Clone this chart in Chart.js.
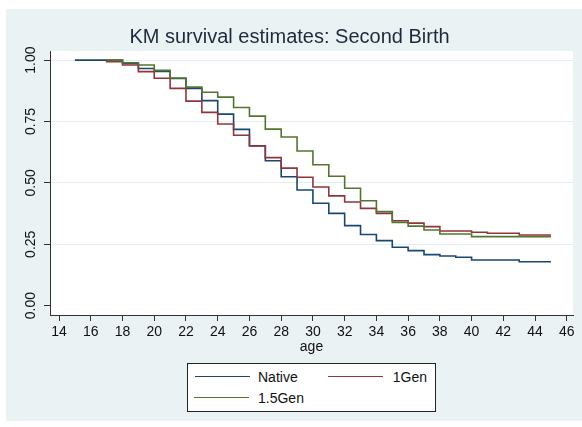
<!DOCTYPE html>
<html><head><meta charset="utf-8">
<script src="https://cdn.jsdelivr.net/npm/chart.js@4/dist/chart.umd.min.js"></script>
<style>
html,body{margin:0;padding:0;background:#fff;}
#wrap{position:relative;width:582px;height:427px;overflow:hidden;}
#bg{position:absolute;left:6px;top:9px;width:576px;height:412px;background:#eaf2f3;}
canvas{position:absolute;left:0;top:0;}
#legend{position:absolute;left:187px;top:363px;width:247px;height:47px;background:#fff;border:1px solid #222;font-family:Arial,"Liberation Sans",sans-serif;font-size:14px;color:#111;}
.sw{position:absolute;height:0;border-top:1.5px solid;}
.lt{position:absolute;height:16px;line-height:16px;white-space:nowrap;}
</style></head>
<body>
<div id="wrap">
<div id="bg"></div>
<canvas id="c" width="582" height="427"></canvas>
<div id="legend"></div>
</div>
<script>
const ages       = [15,16,17,18,19,20,21,22,23,24,25,26,27,28,29,30,31,32,33,34,35,36,37,38,39,40,41,42,43,44,45];
const nativeSurv = [1.000,1.000,1.000,1.000,0.986,0.966,0.954,0.925,0.885,0.835,0.780,0.718,0.651,0.590,0.525,0.471,0.417,0.376,0.326,0.290,0.265,0.238,0.224,0.208,0.202,0.197,0.186,0.186,0.186,0.179,0.179];
const gen1Surv   = [null,null,0.997,0.993,0.980,0.953,0.926,0.885,0.833,0.787,0.740,0.694,0.650,0.603,0.560,0.523,0.483,0.447,0.422,0.396,0.376,0.346,0.336,0.322,0.304,0.304,0.299,0.295,0.295,0.288,0.288];
const gen15Surv  = [null,null,1.000,1.000,0.989,0.980,0.958,0.927,0.890,0.869,0.849,0.807,0.772,0.719,0.687,0.630,0.574,0.527,0.478,0.427,0.383,0.339,0.324,0.308,0.292,0.292,0.281,0.281,0.281,0.281,0.281];

const seriesNames  = ['Native','1Gen','1.5Gen'];
const seriesColors = ['#1a476f','#90353b','#55752f'];
const xTicks = [14,16,18,20,22,24,26,28,30,32,34,36,38,40,42,44,46];
const yTicks = [0,0.25,0.5,0.75,1];
const yTickLabels = ['0.00','0.25','0.50','0.75','1.00'];
const titleText = 'KM survival estimates: Second Birth';
const xTitle = 'age';

const FONT = 'Arial, "Liberation Sans", sans-serif';
const allSeries = [nativeSurv, gen1Surv, gen15Surv];

const datasets = allSeries.map((vals, i) => ({
  label: seriesNames[i],
  data: ages.map((a, j) => ({x: a, y: vals[j]})),
  borderColor: seriesColors[i],
  borderWidth: 1.6,
  pointRadius: 0,
  fill: false,
  stepped: 'after',
  spanGaps: false,
  order: 3 - i
}));

const plotBg = {
  id: 'plotBg',
  beforeDraw(chart) {
    const a = chart.chartArea, ctx = chart.ctx;
    ctx.save(); ctx.fillStyle = '#ffffff';
    ctx.fillRect(a.left, a.top, a.right - a.left, a.bottom - a.top);
    ctx.restore();
  }
};
const yLabels = {
  id: 'yLabels',
  afterDraw(chart) {
    const ctx = chart.ctx, ys = chart.scales.y;
    ctx.save();
    ctx.font = '14px ' + FONT;
    ctx.fillStyle = '#111';
    ctx.textAlign = 'center';
    ctx.textBaseline = 'middle';
    yTicks.forEach((v, i) => {
      const py = ys.getPixelForValue(v);
      ctx.save();
      ctx.translate(31, py);
      ctx.rotate(-Math.PI / 2);
      ctx.fillText(yTickLabels[i], 0, 0);
      ctx.restore();
    });
    ctx.restore();
  }
};

new Chart(document.getElementById('c'), {
  type: 'line',
  data: {datasets},
  plugins: [plotBg, yLabels],
  options: {
    responsive: false, animation: false, devicePixelRatio: 1,
    layout: {padding: {left: 6, right: 9, top: 20, bottom: 71}},
    plugins: {
      legend: {display: false}, tooltip: {enabled: false},
      title: {display: true, text: titleText, color: '#1e2a3c',
        font: {family: FONT, size: 20, weight: 'normal', lineHeight: 1.2},
        padding: {top: 5, bottom: 2}}
    },
    scales: {
      x: {
        type: 'linear', min: 13.43, max: 46.39,
        afterBuildTicks: s => { s.ticks = xTicks.map(v => ({value: v})); },
        afterFit: s => { s.height = 41; },
        grid: {drawOnChartArea: false, drawTicks: true, tickLength: 6, tickColor: '#333', tickWidth: 1},
        border: {display: true, color: '#333', width: 1},
        ticks: {font: {family: FONT, size: 14}, color: '#111', padding: 3, maxRotation: 0, minRotation: 0, autoSkip: false, callback: v => String(v)},
        title: {display: true, text: xTitle, font: {family: FONT, size: 14}, color: '#111', padding: 0}
      },
      y: {
        min: -0.038, max: 1.037,
        afterBuildTicks: s => { s.ticks = yTicks.map(v => ({value: v})); },
        afterFit: s => { s.width = 44; },
        grid: {color: ctx => (ctx.tick && ctx.tick.value === 0) ? 'rgba(0,0,0,0)' : '#e4ecef',
               lineWidth: 1, drawTicks: true, tickLength: 6, tickColor: '#333'},
        border: {display: true, color: '#333', width: 1},
        ticks: {display: false}
      }
    }
  }
});

// legend built from the series arrays
const leg = document.getElementById('legend');
const legPos = [{lx: 7, tx: 70, y: 12.5, right: false}, {lx: 140, tx: 203, y: 12.5, right: true}, {lx: 6, tx: 70, y: 33.5, right: false}];
seriesNames.forEach((name, i) => {
  const p = legPos[i];
  const sw = document.createElement('div');
  sw.className = 'sw';
  sw.style.left = p.lx + 'px'; sw.style.top = (p.y - 0.75) + 'px'; sw.style.width = '55px';
  sw.style.borderTopColor = seriesColors[i];
  leg.appendChild(sw);
  const t = document.createElement('div');
  t.className = 'lt';
  t.textContent = name;
  t.style.top = (p.y - 8) + 'px';
  if (p.right) { t.style.right = '8px'; } else { t.style.left = p.tx + 'px'; }
  leg.appendChild(t);
});
</script>
</body></html>
